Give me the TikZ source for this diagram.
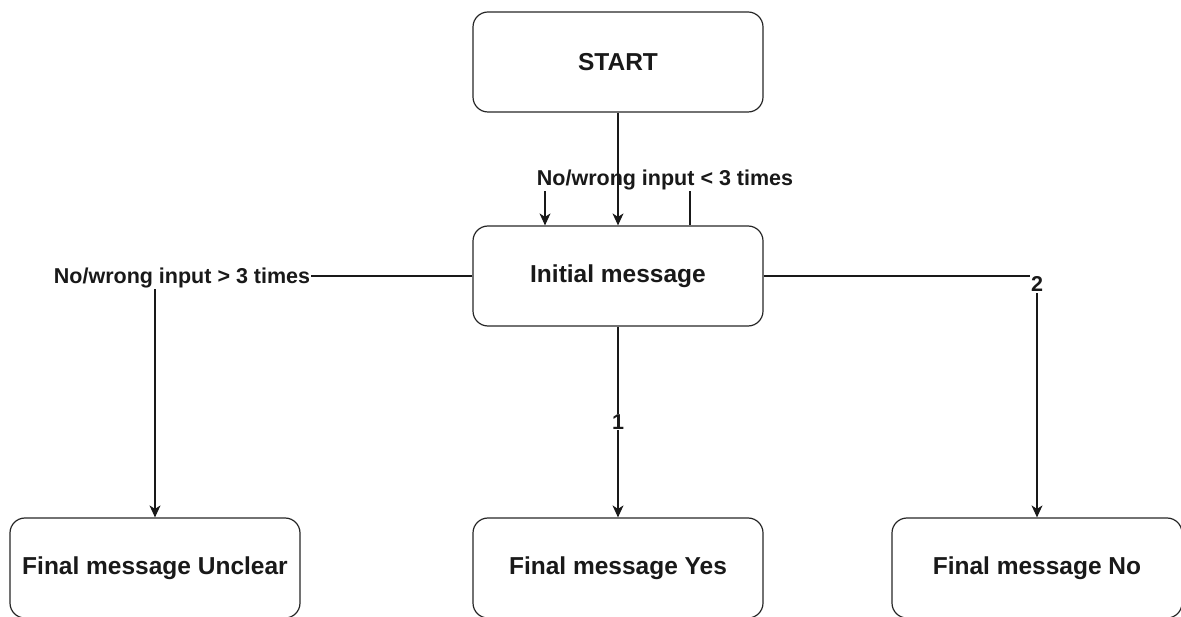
\documentclass[tikz,border=0pt]{standalone}
\usepackage{fontspec}
\setmainfont{Liberation Sans}
\usetikzlibrary{arrows.meta}
\begin{document}
\begin{tikzpicture}[x=1pt,y=-1pt,
 box/.style={draw=black!85, line width=1.2pt, rounded corners=15pt, minimum width=290pt, minimum height=100pt, inner sep=0pt, font=\bfseries\fontsize{24.5}{28}\selectfont, text=black!90},
 conn/.style={line width=1.2pt, draw=black!90, -{Stealth[length=12pt,width=11pt,inset=3.5pt]}},
 elabel/.style={font=\bfseries\fontsize{21.5}{24}\selectfont, fill=white, inner sep=1pt, text=black!90}]
\useasboundingbox (0,0) rectangle (1181,617);
\node[box] (start) at (618,62) {START};
\node[box] (init) at (618,276) {Initial message};
\node[box] (unclear) at (155,568) {Final message Unclear};
\node[box] (yes) at (618,568) {Final message Yes};
\node[box] (no) at (1037,568) {Final message No};
% loop
\coordinate (lr) at (690,180);
\coordinate (ll) at (545,180);
\draw[conn] (init.north -| lr) -- (lr) -- (ll) -- (init.north -| ll);
\node[elabel] (l3) at (665,180) {No/wrong input < 3 times};
\draw[conn] (start) -- (init);
% left
\coordinate (lc) at (155,276);
\draw[conn] (init.west) -- (lc) -- (unclear.north);
\node[elabel] (lgt) at (182,278) {No/wrong input > 3 times};
% right
\coordinate (rc) at (1037,276);
\draw[conn] (init.east) -- (rc) -- (no.north);
\node[elabel] (l2) at (1037,284) {2};
% down
\draw[conn] (init) -- (yes);
\node[elabel] (l1) at (618,422) {1};
\end{tikzpicture}
\end{document}
